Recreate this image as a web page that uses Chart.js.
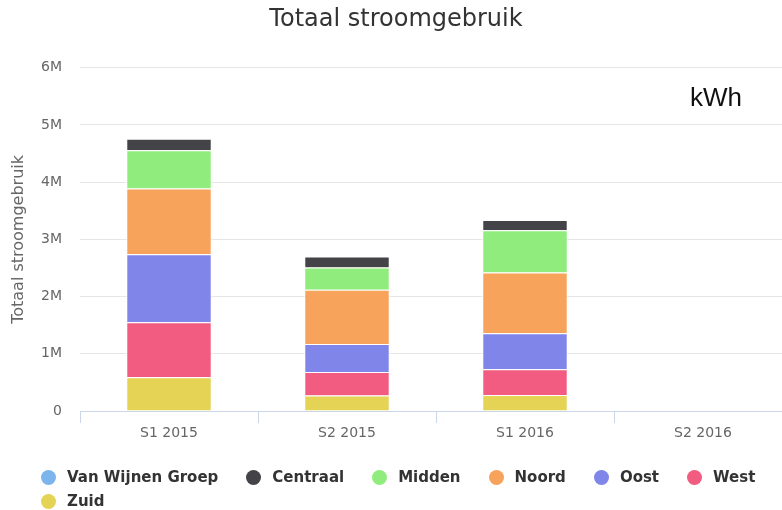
<!DOCTYPE html>
<html>
<head>
<meta charset="utf-8">
<script src="https://cdn.jsdelivr.net/npm/chart.js@4"></script>
<style>
  html, body { margin: 0; padding: 0; overflow: hidden; background: #fff; }
  #wrap { position: relative; width: 792px; height: 510px; }
  #legend {
    position: absolute; left: 41px; top: 465px; width: 760px;
    display: flex; flex-wrap: wrap;
    font: bold 15px "DejaVu Sans", sans-serif; color: #333;
  }
  .item { display: flex; align-items: center; height: 24px; margin-right: 28px; white-space: nowrap; }
  .dot { width: 15px; height: 15px; border-radius: 50%; margin-right: 11px; }
</style>
</head>
<body>
<div id="wrap">
  <canvas id="chart" width="792" height="510"></canvas>
  <div id="legend"></div>
</div>
<script>
// halfjaren
const periods = ['S1 2015', 'S2 2015', 'S1 2016', 'S2 2016'];

const vanWijnenGroep = [0, 0, 0, null];
const centraal = [200000, 190000, 180000, null];
const midden = [670000, 390000, 740000, null];
const noord = [1150000, 950000, 1060000, null];
const oost = [1190000, 490000, 630000, null];
const west = [960000, 410000, 450000, null];
const zuid = [590000, 270000, 280000, null];

const yTicks = [0, 1000000, 2000000, 3000000, 4000000, 5000000, 6000000];

// legend order (top of stack first)
const series = [
  { label: 'Van Wijnen Groep', data: vanWijnenGroep, color: '#7cb5ec' },
  { label: 'Centraal', data: centraal, color: '#434348' },
  { label: 'Midden', data: midden, color: '#90ed7d' },
  { label: 'Noord', data: noord, color: '#f7a35c' },
  { label: 'Oost', data: oost, color: '#8085e9' },
  { label: 'West', data: west, color: '#f15c80' },
  { label: 'Zuid', data: zuid, color: '#e4d354' }
];

// chart.js stacks the first dataset at the bottom, so reverse
const datasets = series.slice().reverse().map(s => ({
  label: s.label,
  data: s.data,
  backgroundColor: s.color,
  borderColor: '#ffffff',
  borderWidth: 1,
  barPercentage: 0.48,
  categoryPercentage: 1
}));

const unitLabel = {
  id: 'unitLabel',
  afterDraw(chart) {
    const ctx = chart.ctx;
    const area = chart.chartArea;
    ctx.save();
    ctx.font = '26px "Liberation Sans", Arial, sans-serif';
    ctx.fillStyle = '#111';
    ctx.textAlign = 'right';
    ctx.textBaseline = 'alphabetic';
    ctx.fillText('kWh', area.right - 50, area.top + 38);
    ctx.restore();
  }
};

const legendEl = document.getElementById('legend');
series.forEach(s => {
  const item = document.createElement('div');
  item.className = 'item';
  const dot = document.createElement('span');
  dot.className = 'dot';
  dot.style.background = s.color;
  const txt = document.createElement('span');
  txt.textContent = s.label;
  item.appendChild(dot);
  item.appendChild(txt);
  legendEl.appendChild(item);
});

new Chart(document.getElementById('chart').getContext('2d'), {
  type: 'bar',
  data: { labels: periods, datasets: datasets },
  plugins: [unitLabel],
  options: {
    responsive: false,
    animation: false,
    layout: { padding: { left: 0, right: 0, top: 0, bottom: 59 } },
    plugins: {
      legend: { display: false },
      tooltip: { enabled: false },
      title: {
        display: true,
        text: 'Totaal stroomgebruik',
        color: '#333333',
        font: { family: '"DejaVu Sans", sans-serif', size: 24, weight: 'normal' },
        padding: { top: 5, bottom: 34 }
      }
    },
    scales: {
      x: {
        stacked: true,
        grid: { display: true, drawOnChartArea: false, drawTicks: true, tickLength: 12, color: '#ccd6eb' },
        border: { display: true, color: '#ccd6eb', width: 1 },
        ticks: { color: '#666666', padding: 2, font: { family: '"DejaVu Sans", sans-serif', size: 14 } },
        afterFit(scale) { scale.height = 40; }
      },
      y: {
        stacked: true,
        min: 0,
        max: 6000000,
        afterBuildTicks(scale) { scale.ticks = yTicks.map(v => ({ value: v })); },
        grid: { color: '#e6e6e6', drawTicks: false },
        border: { display: false },
        ticks: {
          color: '#666666',
          padding: 18,
          font: { family: '"DejaVu Sans", sans-serif', size: 14 },
          callback: v => v === 0 ? '0' : (v / 1000000) + 'M'
        },
        title: {
          display: true,
          text: 'Totaal stroomgebruik',
          color: '#666666',
          font: { family: '"DejaVu Sans", sans-serif', size: 16, weight: 'normal' },
          padding: { top: 9, bottom: 0 }
        },
        afterFit(scale) { scale.width = 80; }
      }
    }
  }
});
</script>
</body>
</html>
